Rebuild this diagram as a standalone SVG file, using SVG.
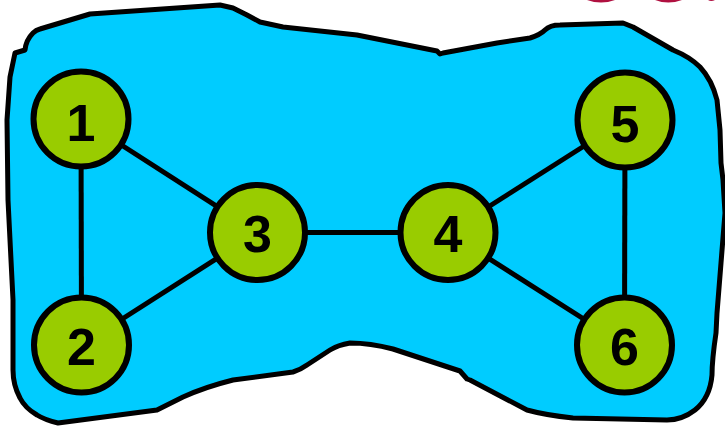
<svg xmlns="http://www.w3.org/2000/svg" width="725" height="429" viewBox="0 0 725 429">
<style>
.blob{fill:#00CCFF;stroke:#000;stroke-width:5;stroke-linejoin:round}
.edge{stroke:#000;stroke-width:5;fill:none}
.node circle{fill:#99CC00;stroke:#000;stroke-width:6}
.node text{font-family:"Liberation Sans",Arial,sans-serif;font-weight:bold;font-size:52px;fill:#000;text-anchor:middle}
.frag{fill:#B01040}
</style>
<rect width="725" height="429" fill="#fff"/>
<g id="fragments">
<path class="frag" d="M587,0 Q601,5 615,0 Z"/>
<path class="frag" d="M655,0 Q668,5 682,0 Z"/>
<path class="frag" d="M708,0 Q711,2 715,0 Z"/>
</g>
<path id="region" class="blob" d="M15,53 L25,50 Q26,40 33,33 Q36,30 40,29 L90,14 L220,5 L233,8 L247,15 L260,22 L283,27 L357,35 L437,51 L440,54 L443,53 L497,43 L530,38 Q540,35 545,30 Q550,25 560,25 L623,23 L633,27 L673,50 Q690,57 700,67 Q712,80 717,100 L720,130 L721,163 L723,180 L725,213 L721,263 L717,313 L716,333 Q712,360 712,375 Q710,398 695,410 Q682,420 667,420 L573,418 Q545,415 527,410 L470,380 L467,379 L460,371 L393,349 Q370,343 350,343 Q338,345 330,350 L307,365 Q300,370 293,372 L233,380 Q205,387 183,397 L157,410 L58,423 Q45,420 37,415 Q25,408 20,398 Q13,385 13,370 L13,300 L12,280 L8,200 L7,120 L10,77 Z"/>
<g id="connectors">
<line class="edge" x1="81" y1="119" x2="81.5" y2="345"/>
<line class="edge" x1="81" y1="119" x2="257.5" y2="232.5"/>
<line class="edge" x1="81.5" y1="345" x2="257.5" y2="232.5"/>
<line class="edge" x1="257.5" y1="232.5" x2="448" y2="232.5"/>
<line class="edge" x1="448" y1="232.5" x2="625" y2="120"/>
<line class="edge" x1="448" y1="232.5" x2="624.5" y2="345"/>
<line class="edge" x1="625" y1="120" x2="624.5" y2="345"/>
</g>
<g id="node1" class="node"><circle cx="81" cy="119" r="47.5"/><text x="81" y="140.5">1</text></g>
<g id="node2" class="node"><circle cx="81.5" cy="345" r="47.5"/><text x="81.5" y="365">2</text></g>
<g id="node3" class="node"><circle cx="257.5" cy="232.5" r="47.5"/><text x="257.5" y="252">3</text></g>
<g id="node4" class="node"><circle cx="448" cy="232.5" r="47.5"/><text x="448" y="252">4</text></g>
<g id="node5" class="node"><circle cx="625" cy="120" r="47.5"/><text x="625" y="141.5">5</text></g>
<g id="node6" class="node"><circle cx="624.5" cy="345" r="47.5"/><text x="624.5" y="365">6</text></g>
</svg>
